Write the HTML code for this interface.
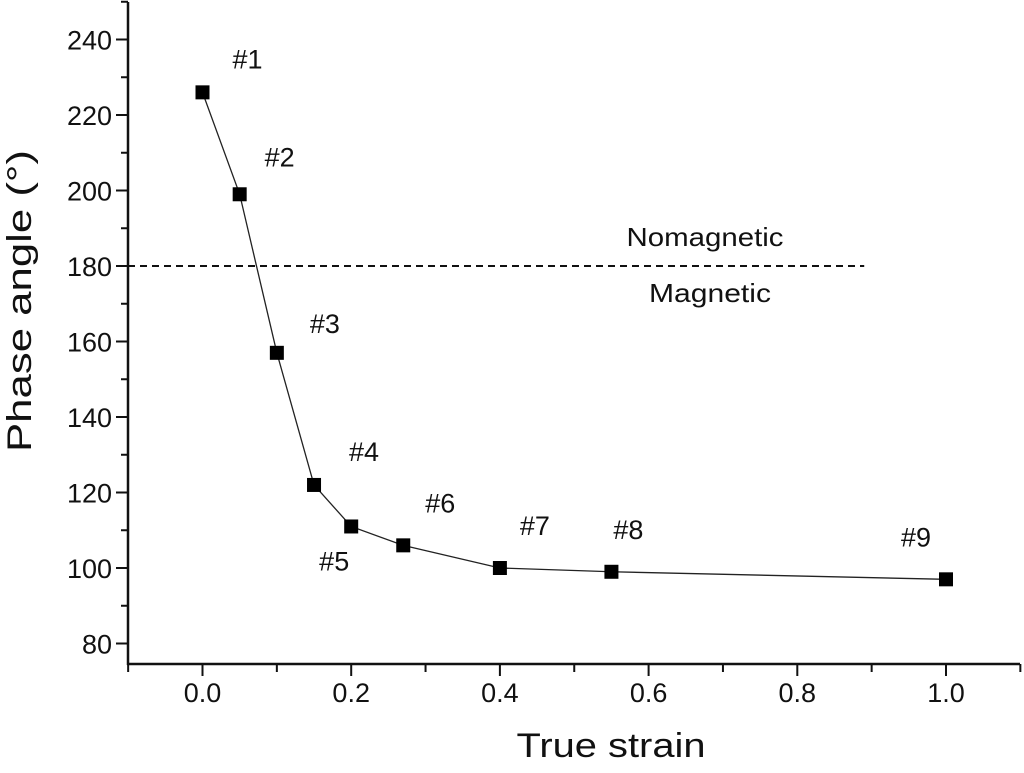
<!DOCTYPE html>
<html><head><meta charset="utf-8"><style>
html,body{margin:0;padding:0;background:#fff;}
svg text{font-family:"Liberation Sans",Arial,sans-serif;fill:#111;}
</style></head><body>
<svg id="chart" width="1024" height="768" viewBox="0 0 1024 768" xmlns="http://www.w3.org/2000/svg"></svg>
<script>
const xVals=[0,0.05,0.1,0.15,0.2,0.27,0.4,0.55,1.0];
const yVals=[226,199,157,122,111,106,100,99,97];
const pointLabels=['#1','#2','#3','#4','#5','#6','#7','#8','#9'];
const labelOffsets=[[45,-24],[40,-28],[48,-20],[50,-24],[-17,44],[37,-33],[35,-33],[17,-33],[-30,-33]];
const xTicks=[0,0.2,0.4,0.6,0.8,1.0];
const xTickLabels=['0.0','0.2','0.4','0.6','0.8','1.0'];
const yTicks=[80,100,120,140,160,180,200,220,240];
const thresholdValue=180;

const svg=document.getElementById('chart');
const NS='http://www.w3.org/2000/svg';
const X=v=>202.5+(v)*743.5;
const Y=v=>39.5+(240-v)*75.5/20;
function mk(tag,attrs,name,parent){const e=document.createElementNS(NS,tag);for(const k in attrs)e.setAttribute(k,attrs[k]);


(parent||svg).appendChild(e);return e;}
const axY=664, axX=128;
mk('line',{x1:axX,y1:2,x2:axX,y2:axY+1,stroke:'#111','stroke-width':2.5},'y-axis-line');
mk('line',{x1:axX-1,y1:axY,x2:1020,y2:axY,stroke:'#111','stroke-width':2.5},'x-axis-line');
for(let v=-0.1;v<=1.101;v+=0.1){const major=Math.abs(Math.round(v*10)%2)===0;
mk('line',{x1:X(v),y1:axY,x2:X(v),y2:axY+(major?12:8),stroke:'#111','stroke-width':2},'x-tick');}
xTicks.forEach((t,i)=>{const e=mk('text',{x:X(t),y:axY+38,'font-size':27,'text-anchor':'middle'},'x-tick-label');e.textContent=xTickLabels[i];});
for(let v=80;v<=250;v+=10){const major=v%20===0;
mk('line',{x1:axX,y1:Y(v),x2:axX-(major?12:7),y2:Y(v),stroke:'#111','stroke-width':2},'y-tick');}
yTicks.forEach(t=>{const e=mk('text',{x:axX-16,y:Y(t)+10,'font-size':27,'text-anchor':'end'},'y-tick-label');e.textContent=t;});
let e=mk('text',{x:611,y:757,'font-size':34,'text-anchor':'middle',textLength:189,lengthAdjust:'spacingAndGlyphs'},'x-axis-title');e.textContent='True strain';
e=mk('text',{x:0,y:0,'font-size':34,'text-anchor':'middle',textLength:302,lengthAdjust:'spacingAndGlyphs',transform:'translate(31,301) rotate(-90)'},'y-axis-title');e.textContent='Phase angle (°)';
mk('line',{x1:axX,y1:Y(thresholdValue),x2:X(0.89),y2:Y(thresholdValue),stroke:'#111','stroke-width':2,'stroke-dasharray':'7,5'},'threshold-line');
e=mk('text',{x:705,y:246,'font-size':26,'text-anchor':'middle',textLength:157,lengthAdjust:'spacingAndGlyphs'},'nomagnetic-label');e.textContent='Nomagnetic';
e=mk('text',{x:710,y:302,'font-size':26,'text-anchor':'middle',textLength:122,lengthAdjust:'spacingAndGlyphs'},'magnetic-label');e.textContent='Magnetic';
mk('polyline',{points:xVals.map((x,i)=>X(x)+','+Y(yVals[i])).join(' '),fill:'none',stroke:'#222','stroke-width':1.3},'data-line');
xVals.forEach((x,i)=>{mk('rect',{x:X(x)-7,y:Y(yVals[i])-7,width:14,height:14,fill:'#000'},'data-point-'+(i+1));
const t=mk('text',{x:X(x)+labelOffsets[i][0],y:Y(yVals[i])+labelOffsets[i][1],'font-size':27,'text-anchor':'middle'},'point-label');t.textContent=pointLabels[i];});
</script>
</body></html>
